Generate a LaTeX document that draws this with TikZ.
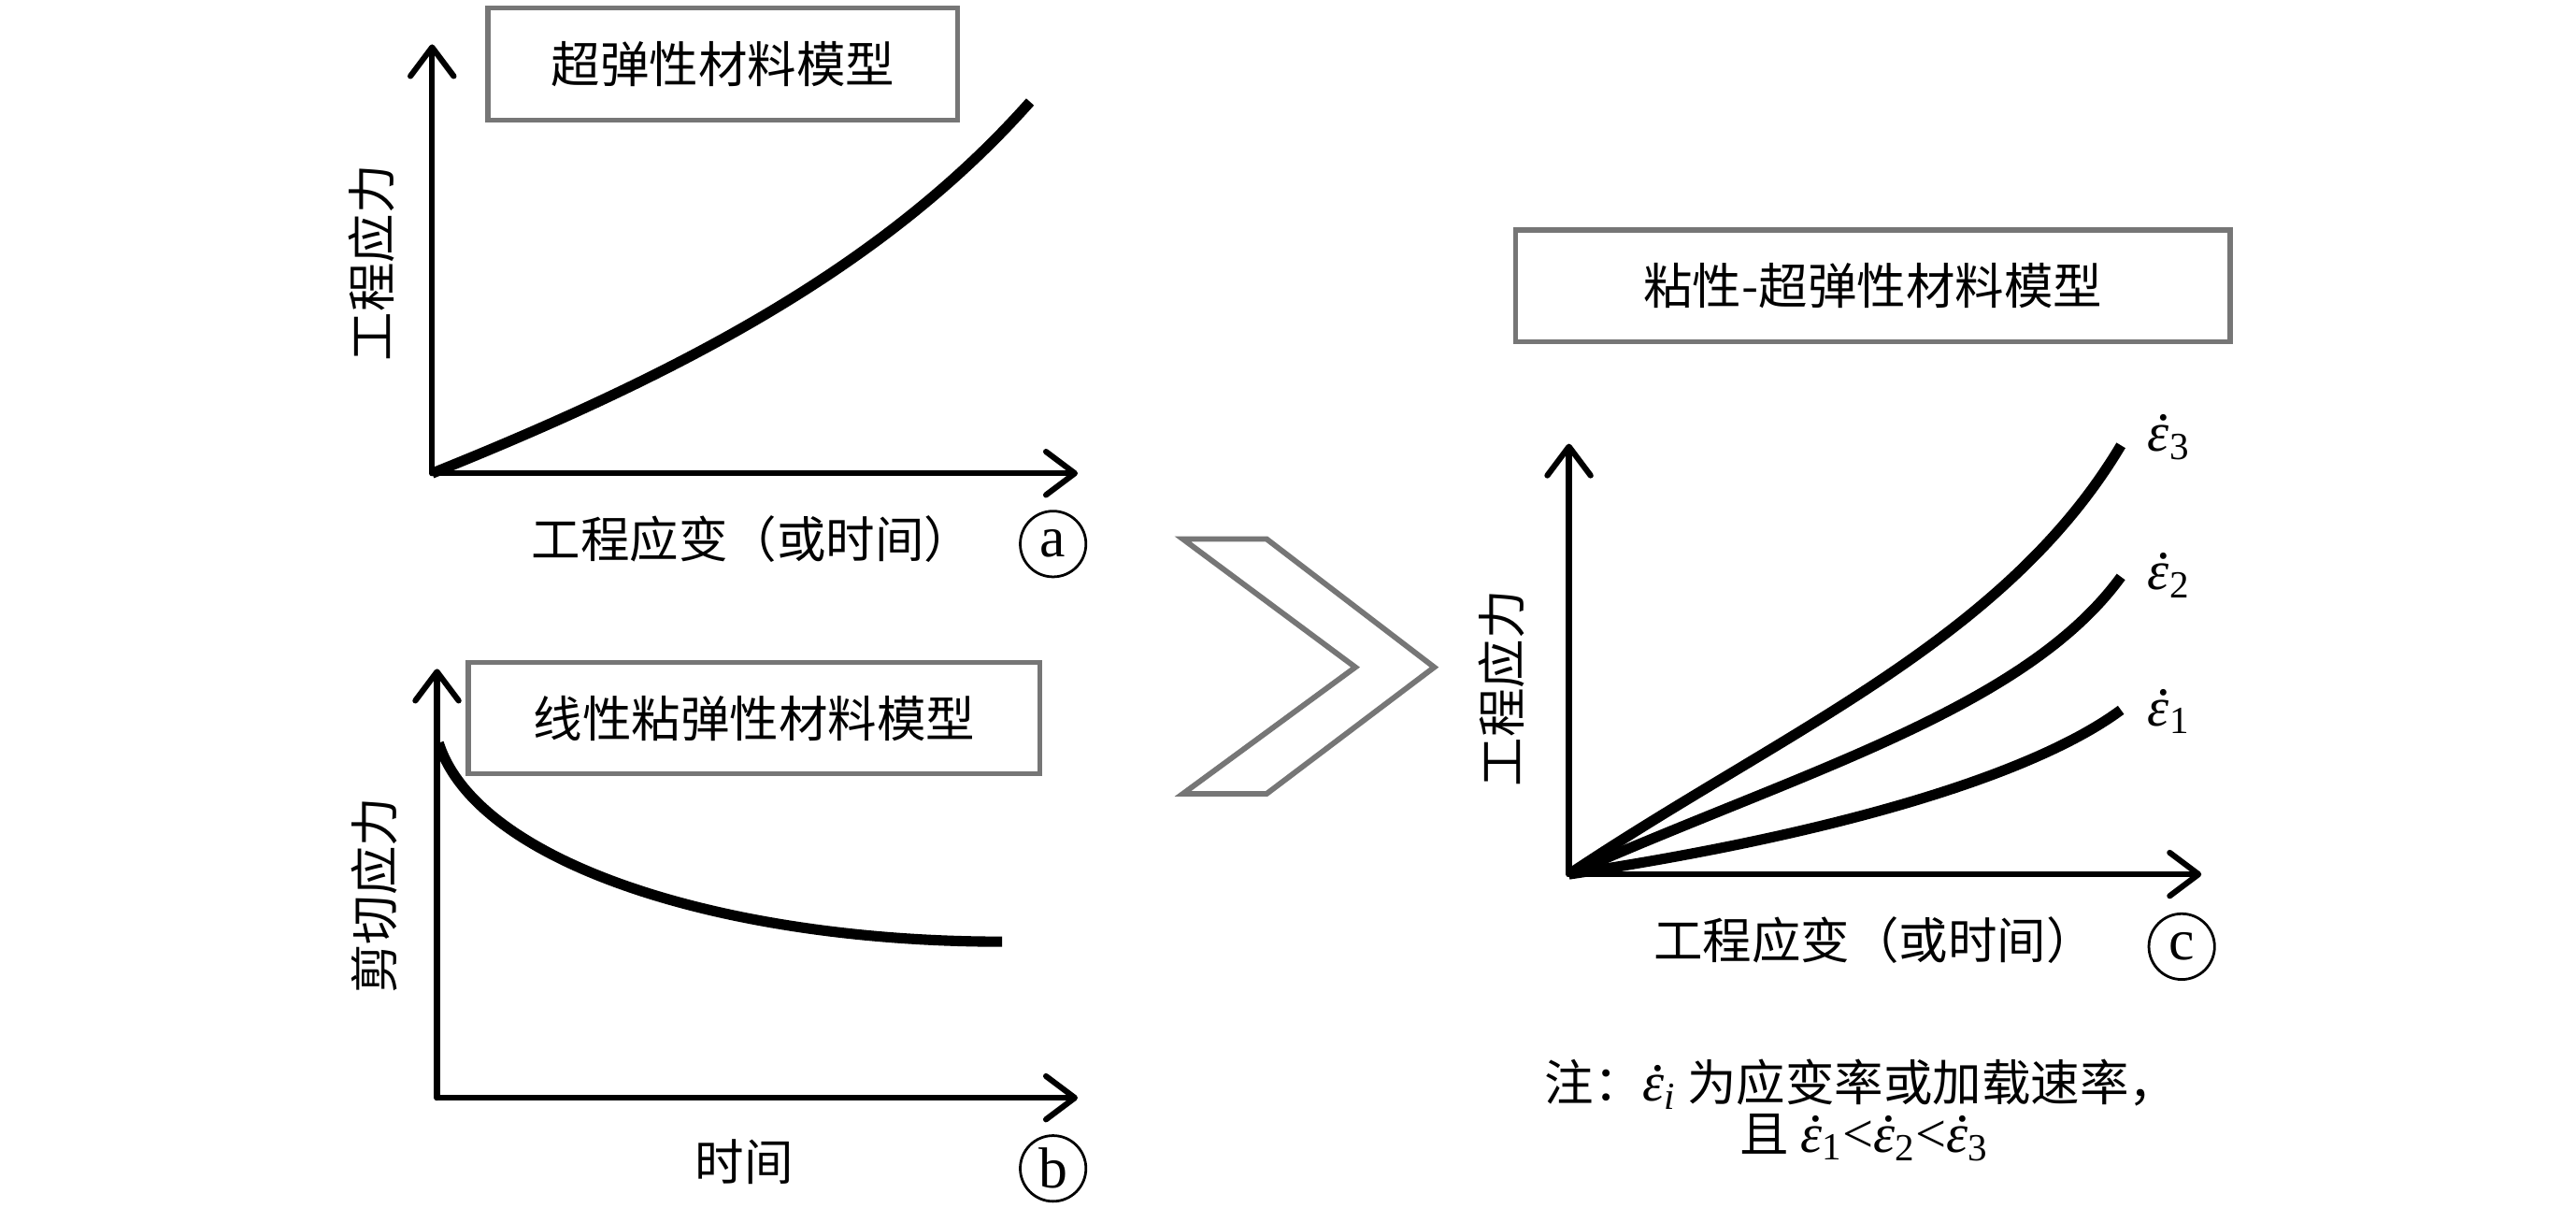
\documentclass[tikz,border=0pt]{standalone}
\usepackage{fontspec}
\setmainfont{Liberation Serif}
\newfontfamily\cjk{Noto Sans CJK SC}
\usetikzlibrary{arrows.meta}
\definecolor{boxgray}{HTML}{767676}
\newcommand{\epsd}[1]{\leavevmode\rlap{\hspace{0.16em}\raisebox{0.56em}{\upshape .}}{\itshape ε}\textsubscript{#1}}
\begin{document}
\begin{tikzpicture}[x=0.02cm,y=-0.02cm,
  axis/.style={line width=2pt,line cap=round,-{Straight Barb[length=10pt,width=15pt,line width=2pt,line cap=round,line join=round]}},
  curve/.style={line width=3.6pt},
  titlebox/.style={draw=boxgray,line width=1.7pt,inner sep=0pt,minimum height=1.36cm,font=\cjk\fontsize{17}{20}\selectfont},
  txt/.style={inner sep=0pt,font=\cjk\fontsize{17}{20}\selectfont},
  lblcirc/.style={circle,draw,line width=0.9pt,minimum size=0.8cm,inner sep=0pt,font=\fontsize{20}{22}\selectfont},
  epslbl/.style={inner sep=0pt,anchor=west,font=\fontsize{19}{22}\selectfont},
  chev/.style={draw=boxgray,line width=1.9pt,line join=miter}]
\useasboundingbox (0,0) rectangle (1568,735);
% ---------- panel a ----------
\coordinate (oa) at (263,288);
\coordinate (ya) at (263,27);
\coordinate (xa) at (656,288);
\coordinate (ea) at (627,62);
\draw[axis] (oa) -- (ya);
\draw[axis] (oa) -- (xa);
\draw[curve] (oa) .. controls (420,225) and (540,160) .. (ea);
\node[titlebox,minimum width=5.72cm] (ta) at (440,39) {超弹性材料模型};
\node[txt,rotate=90] (yla) at (226,160) {工程应力};
\node[txt] (xla) at (458,328) {工程应变（或时间）};
\node[lblcirc] (ca) at (641,331) {a};
% ---------- panel b ----------
\coordinate (ob) at (266,668);
\coordinate (yb) at (266,407);
\coordinate (xb) at (656,668);
\coordinate (sb) at (267,452);
\coordinate (eb) at (610,573);
\draw[axis] (ob) -- (yb);
\draw[axis] (ob) -- (xb);
\draw[curve] (sb) .. controls (290,525) and (440,573) .. (eb);
\node[titlebox,minimum width=6.96cm] (tb) at (459,437) {线性粘弹性材料模型};
\node[txt,rotate=90] (ylb) at (228,545) {剪切应力};
\node[txt] (xlb) at (453,707) {时间};
\node[lblcirc] (cb) at (641,711) {b};
% ---------- chevron ----------
\draw[chev] (720,328) -- (771,328) -- (873,406) -- (771,483) -- (720,483) -- (825,406) -- cycle;
% ---------- panel c ----------
\coordinate (oc) at (955,532);
\coordinate (yc) at (955,270);
\coordinate (xc) at (1340,532);
\coordinate (e3) at (1291,271);
\coordinate (e2) at (1291,351);
\coordinate (e1) at (1291,432);
\draw[axis] (oc) -- (yc);
\draw[axis] (oc) -- (xc);
\draw[curve] (oc) .. controls (1085,445) and (1220,390) .. (e3);
\draw[curve] (oc) .. controls (1095,470) and (1232,432) .. (e2);
\draw[curve] (oc) .. controls (1115,508) and (1237,472) .. (e1);
\node[epslbl] (l3) at (1307,266) {\epsd{3}};
\node[epslbl] (l2) at (1307,350) {\epsd{2}};
\node[epslbl] (l1) at (1307,433) {\epsd{1}};
\node[titlebox,minimum width=8.7cm] (tc) at (1140,174) {粘性-超弹性材料模型};
\node[txt,rotate=90] (ylc) at (914,419) {工程应力};
\node[txt] (xlc) at (1141,572) {工程应变（或时间）};
\node[lblcirc] (cc) at (1328,576) {c};
\node[txt] (n1) at (1133,660) {注：{\rmfamily\fontsize{19}{22}\selectfont\epsd{\itshape i}} 为应变率或加载速率，};
\node[txt] (n2) at (1135,692) {且 {\rmfamily\fontsize{19}{22}\selectfont\epsd{1}<\epsd{2}<\epsd{3}}};
\end{tikzpicture}
\end{document}
